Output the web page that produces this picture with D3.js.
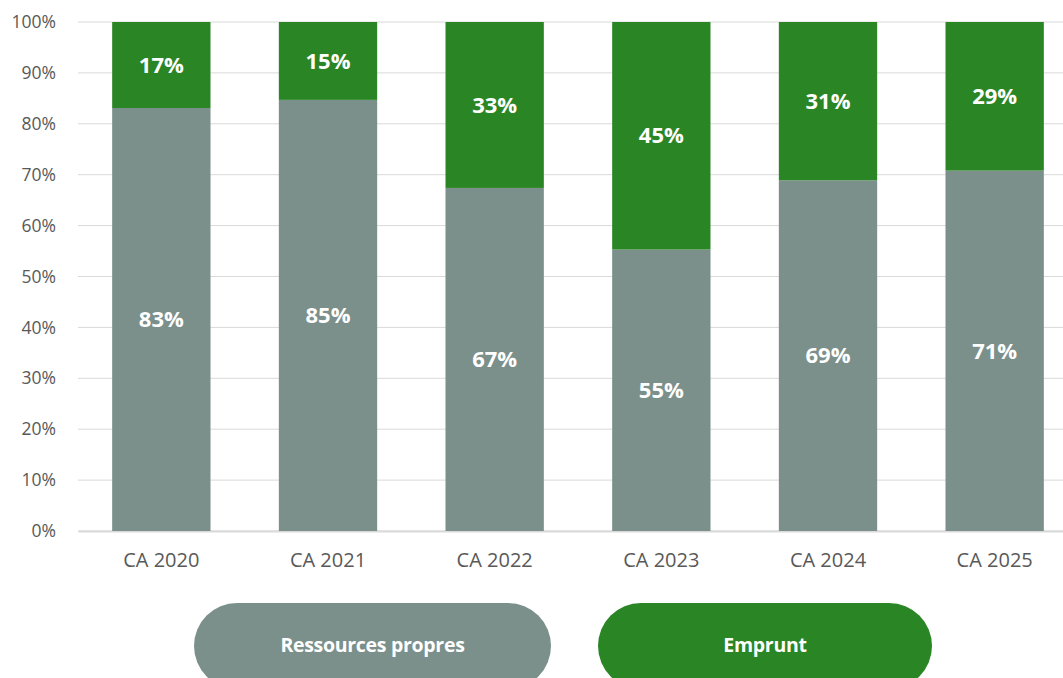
<!DOCTYPE html>
<html>
<head>
<meta charset="utf-8">
<script src="https://cdn.jsdelivr.net/npm/d3@7"></script>
<style>
  body { margin: 0; background: #fff; overflow: hidden; }
  svg { display: block; font-family: "Open Sans", "Noto Sans", sans-serif; }
</style>
</head>
<body>
<div id="chart"></div>
<script>
const width = 1063;
const height = 678;

const categories = ["CA 2020", "CA 2021", "CA 2022", "CA 2023", "CA 2024", "CA 2025"];
const ressources = [83.1, 84.7, 67.4, 55.3, 68.9, 70.8];
const emprunt = [16.9, 15.3, 32.6, 44.7, 31.1, 29.2];
const seriesNames = ["Ressources propres", "Emprunt"];
const yTicks = [0, 10, 20, 30, 40, 50, 60, 70, 80, 90, 100];

const colors = ["#7b908b", "#2a8525"];

const svg = d3.select("#chart")
    .append("svg")
        .attr("width", width)
        .attr("height", height);

const x = d3.scaleBand()
    .domain(categories)
    .range([78, 1078])
    .paddingInner(0.41)
    .paddingOuter(0.205);

const y = d3.scaleLinear()
    .domain([0, 100])
    .range([531, 22]);

// gridlines
svg.append("g")
    .selectAll("line")
    .data(yTicks).enter()
    .append("line")
        .attr("x1", 78)
        .attr("x2", width)
        .attr("y1", d => y(d))
        .attr("y2", d => y(d))
        .attr("stroke", "#d9d9d9")
        .attr("stroke-width", 1);

// y axis labels
const yAxis = svg.append("g")
    .attr("transform", "translate(59,0)")
    .call(d3.axisLeft(y).tickValues(yTicks).tickFormat(d => d + "%").tickSize(0));
yAxis.select(".domain").remove();
yAxis.selectAll("text")
    .attr("fill", "#595959")
    .style("font-size", "17.5px")
    .style("font-family", "'Open Sans', sans-serif");

// x axis labels
const xAxis = svg.append("g")
    .attr("transform", "translate(0,531)")
    .call(d3.axisBottom(x).tickSize(0).tickPadding(22));
xAxis.select(".domain")
    .attr("stroke", "#d9d9d9")
    .attr("stroke-width", 2);
xAxis.selectAll("text")
    .attr("fill", "#595959")
    .style("font-size", "20px")
    .style("font-family", "'Open Sans', sans-serif");

// stacked data
const rows = categories.map((c, i) => ({cat: c, r: ressources[i], e: emprunt[i]}));
const stacked = d3.stack().keys(["r", "e"])(rows);

const layers = svg.append("g")
    .selectAll("g")
    .data(stacked).enter()
    .append("g")
        .attr("fill", (d, i) => colors[i]);

layers.selectAll("rect")
    .data(d => d).enter()
    .append("rect")
        .attr("x", d => x(d.data.cat))
        .attr("width", x.bandwidth())
        .attr("y", d => y(d[1]))
        .attr("height", d => y(d[0]) - y(d[1]));

layers.selectAll("text")
    .data(d => d).enter()
    .append("text")
        .attr("x", d => x(d.data.cat) + x.bandwidth() / 2)
        .attr("y", d => y((d[0] + d[1]) / 2))
        .attr("dy", "0.35em")
        .attr("text-anchor", "middle")
        .attr("fill", "#fff")
        .style("font-weight", "bold")
        .style("font-size", "22px")
        .text(d => Math.round(d[1] - d[0]) + "%");

// legend pills
const legendX = [194, 598];
const legendW = [357, 334];
const legend = svg.append("g")
    .selectAll("g")
    .data(seriesNames).enter()
    .append("g")
        .attr("transform", (d, i) => `translate(${legendX[i]},603)`);

legend.append("rect")
    .attr("width", (d, i) => legendW[i])
    .attr("height", 86)
    .attr("rx", 43)
    .attr("fill", (d, i) => colors[i]);

legend.append("text")
    .attr("x", (d, i) => legendW[i] / 2)
    .attr("y", 42)
    .attr("dy", "0.35em")
    .attr("text-anchor", "middle")
    .attr("fill", "#fff")
    .style("font-weight", "bold")
    .style("font-size", "19.5px")
    .style("letter-spacing", "-0.3px")
    .text(d => d);
</script>
</body>
</html>
